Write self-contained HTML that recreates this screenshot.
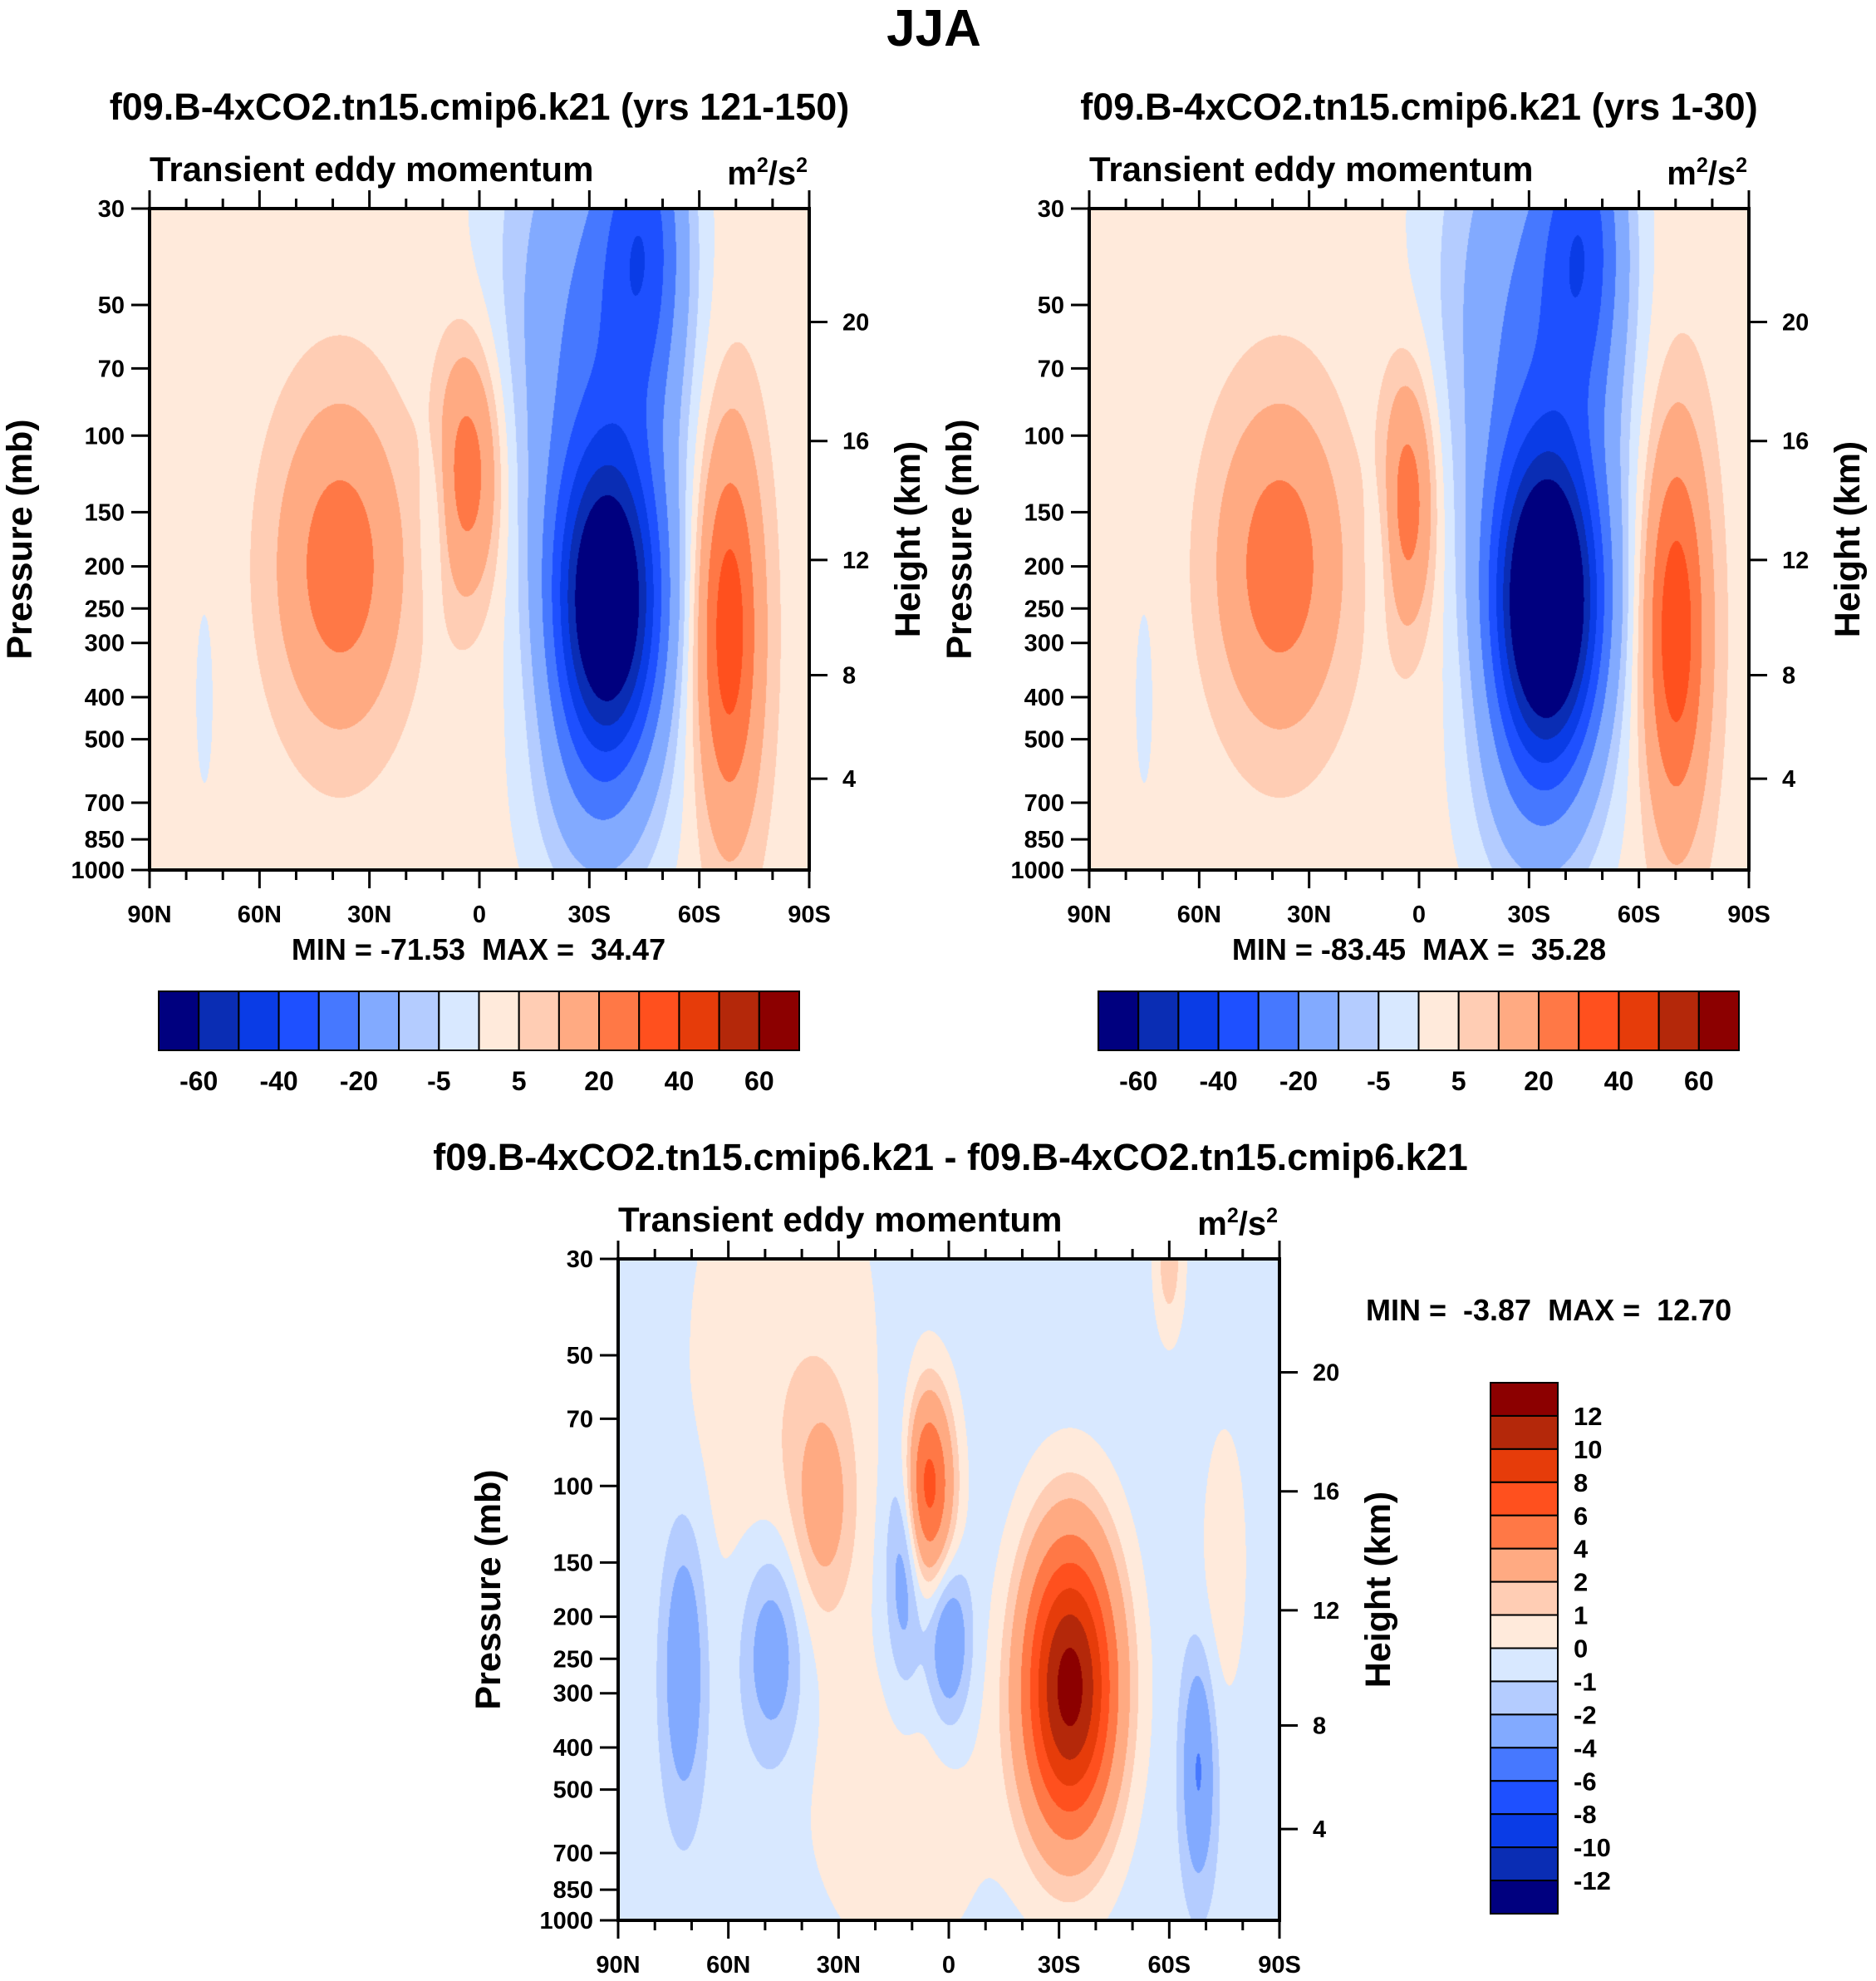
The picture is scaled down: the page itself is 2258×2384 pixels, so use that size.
<!DOCTYPE html>
<html><head><meta charset="utf-8"><style>
html,body{margin:0;padding:0;background:#fff}
#wrap{position:relative;width:2258px;height:2384px;overflow:hidden}
canvas{position:absolute}
svg{position:absolute;left:0;top:0}
text{font-family:"Liberation Sans",Arial,sans-serif;font-weight:bold;fill:#000;white-space:pre}
</style></head><body>
<div id="wrap">
<canvas id="c1" width="794" height="796" style="left:180px;top:251px"></canvas>
<canvas id="c2" width="794" height="796" style="left:1311px;top:251px"></canvas>
<canvas id="c3" width="796" height="796" style="left:744px;top:1515px"></canvas>
<svg id="s" width="2258" height="2384"></svg>
</div>
<script>
// ---- data ----
const colors = ["#00007f","#0a2db4","#0a3ce6","#1e50ff","#4678ff","#82aaff","#b4ccff","#d8e8ff","#ffeadb","#ffcdb4","#ffaa82","#ff7846","#ff501e","#e63c0a","#b4280a","#8c0000"];
const boundsAbs = [-60,-50,-40,-30,-20,-10,-5,0,5,10,20,30,40,50,60];
const labelsAbs = ["-60","-40","-20","-5","5","20","40","60"];
const boundsDiff = [-12,-10,-8,-6,-4,-2,-1,0,1,2,4,6,8,10,12];
const labelsDiff = ["-12","-10","-8","-6","-4","-2","-1","0","1","2","4","6","8","10","12"];
const pTicks = [30,50,70,100,150,200,250,300,400,500,700,850,1000];
const zTicks = [4,8,12,16,20];
const latTicks = [90,60,30,0,-30,-60,-90];
const latLabels = ["90N","60N","30N","0","30S","60S","90S"];
// blobs: [lat, pressure, amplitude, sigmaLat, sigmaLnP]
const base1 = 3;
const blobs1 = [[38,200,24,11,0.55],[3,120,24,6,0.45],[-68,280,34,6,0.7],[-35,250,-74,10,0.55],[-45,35,-30,8,0.6],[-35,90,-20,14,1.0],[-20,40,-10,15,1.0],[12,150,-7,3,0.35],[-32,700,-12,13,0.5],[75,400,-4,3,0.6]];
const base2 = 3;
const blobs2 = [[38,200,24,11,0.55],[3,140,24,5,0.45],[-70,280,35,6,0.7],[-35,250,-86,10,0.55],[-45,35,-30,8,0.6],[-35,90,-20,14,1.0],[-20,40,-10,15,1.0],[10,170,-6,3,0.35],[-32,700,-12,13,0.5],[75,400,-4,3,0.6]];
const base3 = -0.6;
const blobs3 = [[-33,290,13.5,9,0.55],[6,100,7.5,5,0.35],[34,110,2.5,6,0.4],[12,130,-3.6,3.5,0.5],[0,230,-3.2,4,0.3],[72,260,-3.2,4,0.5],[48,240,-3,6,0.4],[-68,450,-3.6,3,0.4],[-60,30,2.2,3,0.3],[45,60,1.4,20,1.2],[12,600,1.2,18,0.6],[-75,150,1.2,5,0.6]];
const minmax1 = "MIN = -71.53  MAX =  34.47";
const minmax2 = "MIN = -83.45  MAX =  35.28";
const minmax3 = "MIN =  -3.87  MAX =  12.70";

const L = Math.log(1000/30);
function field(lat,p,base,blobs){let v=base;for(const b of blobs){const dx=(lat-b[0])/b[3],dy=Math.log(p/b[1])/b[4];v+=b[2]*Math.exp(-0.5*(dx*dx+dy*dy));}return v;}
function hex(c){return [parseInt(c.substr(1,2),16),parseInt(c.substr(3,2),16),parseInt(c.substr(5,2),16)];}
const rgb = colors.map(hex);
function paint(id,base,blobs,bounds){
  const cv=document.getElementById(id),ctx=cv.getContext('2d'),W=cv.width,H=cv.height;
  const img=ctx.createImageData(W,H);
  for(let j=0;j<H;j++){const p=30*Math.exp(L*(j+0.5)/H);
    for(let i=0;i<W;i++){const lat=90-180*(i+0.5)/W;const v=field(lat,p,base,blobs);
      let k=0;while(k<bounds.length&&v>=bounds[k])k++;const c=rgb[k];const o=(j*W+i)*4;
      img.data[o]=c[0];img.data[o+1]=c[1];img.data[o+2]=c[2];img.data[o+3]=255;}}
  ctx.putImageData(img,0,0);
}
paint('c1',base1,blobs1,boundsAbs);
paint('c2',base2,blobs2,boundsAbs);
paint('c3',base3,blobs3,boundsDiff);

const S=document.getElementById('s'),NS="http://www.w3.org/2000/svg";
function el(tag,attrs,txt){const e=document.createElementNS(NS,tag);for(const k in attrs)e.setAttribute(k,attrs[k]);if(txt!==undefined)e.textContent=txt;S.appendChild(e);return e;}
function zToP(z){const m=z*1000;if(m<=11000)return 1013.25*Math.pow(1-2.25577e-5*m,5.25588);return 226.32*Math.exp(-(m-11000)/6341.6);}
function axes(x0,y0,w,h,name){
  const yP=p=>y0+h*Math.log(p/30)/L, xL=l=>x0+w*(90-l)/180;
  let r=el('rect',{x:x0,y:y0,width:w,height:h,fill:'none',stroke:'#000','stroke-width':4});
  
  
  pTicks.forEach(p=>{const y=yP(p);
    let t=el('line',{x1:x0-22,x2:x0,y1:y,y2:y,stroke:'#000','stroke-width':3});
    
    
    let tx=el('text',{x:x0-30,y:y+10,'font-size':29,'text-anchor':'end'},String(p));
    
    });
  zTicks.forEach(z=>{const y=yP(zToP(z));
    let t=el('line',{x1:x0+w,x2:x0+w+22,y1:y,y2:y,stroke:'#000','stroke-width':3});
    
    
    let tx=el('text',{x:x0+w+40,y:y+10,'font-size':29},String(z));
    
    });
  for(let l=90;l>=-90;l-=10){const x=xL(l),maj=(l%30===0),len=maj?22:12;
    let t=el('line',{x1:x,x2:x,y1:y0+h,y2:y0+h+len,stroke:'#000','stroke-width':3});
    
    
    let t2=el('line',{x1:x,x2:x,y1:y0-len,y2:y0,stroke:'#000','stroke-width':3});
    
    }
  latTicks.forEach((l,i)=>{let tx=el('text',{x:xL(l),y:y0+h+63,'font-size':29,'text-anchor':'middle'},latLabels[i]);
    
    });
  let a=el('text',{x:x0,y:y0-33,'font-size':42},'Transient eddy momentum');
  
  
  let u=el('text',{x:x0+w-2,y:y0-29,'font-size':40,'text-anchor':'end'});
  
  
  u.innerHTML='m<tspan dy="-15" font-size="25">2</tspan><tspan dy="15">/s</tspan><tspan dy="-15" font-size="25">2</tspan>';
  let pl=el('text',{x:0,y:0,'font-size':43,'text-anchor':'middle',transform:`translate(${x0-142},${y0+h/2}) rotate(-90)`},'Pressure (mb)');
  
  
  let hl=el('text',{x:0,y:0,'font-size':43,'text-anchor':'middle',transform:`translate(${x0+w+133},${y0+h/2}) rotate(-90)`},'Height (km)');
  
  
}
function hbar(x0,y0,w,h,name,mm,mx){
  const bw=w/16;
  colors.forEach((c,i)=>{let r=el('rect',{x:x0+i*bw,y:y0,width:bw,height:h,fill:c,stroke:'#000','stroke-width':2});
    
    });
  labelsAbs.forEach((s,i)=>{let t=el('text',{x:x0+(2*i+1)*bw,y:y0+h+48,'font-size':32,'text-anchor':'middle'},s);
    
    });
  let m=el('text',{x:mx,y:y0-38,'font-size':36,'text-anchor':'middle'},mm);
  
  
}
axes(180,251,794,796,'left-panel');
axes(1311,251,794,796,'right-panel');
axes(744,1515,796,796,'diff-panel');
hbar(191,1193,771,71,'left-panel',minmax1,576);
hbar(1322,1193,771,71,'right-panel',minmax2,1708);
// vertical colorbar
const vx=1794,vy=1664,vw=81,vh=639,bh=vh/16;
colors.slice().reverse().forEach((c,i)=>{let r=el('rect',{x:vx,y:vy+i*bh,width:vw,height:bh,fill:c,stroke:'#000','stroke-width':2});
  
  });
labelsDiff.slice().reverse().forEach((s,i)=>{let t=el('text',{x:1894,y:vy+(i+1)*bh+11,'font-size':31},s);
  
  });
let mm3=el('text',{x:1644,y:1589,'font-size':36},minmax3);


// titles
let t0=el('text',{x:1124,y:55,'font-size':62,'text-anchor':'middle'},'JJA');


let t1=el('text',{x:577,y:144,'font-size':45,'text-anchor':'middle'},'f09.B-4xCO2.tn15.cmip6.k21 (yrs 121-150)');


let t2=el('text',{x:1708,y:144,'font-size':45,'text-anchor':'middle'},'f09.B-4xCO2.tn15.cmip6.k21 (yrs 1-30)');


let t3=el('text',{x:1144,y:1408,'font-size':45,'text-anchor':'middle'},'f09.B-4xCO2.tn15.cmip6.k21 - f09.B-4xCO2.tn15.cmip6.k21');


</script>
</body></html>
